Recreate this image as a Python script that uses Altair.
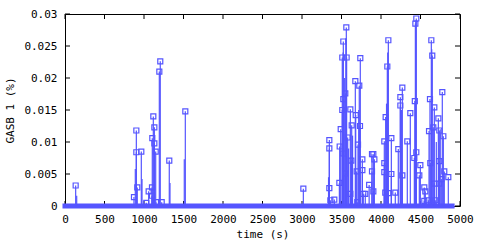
import altair as alt
import pandas as pd

# Peaks drawn as impulses topped with hollow squares
peak_t = [135, 873, 903, 903, 915, 966, 1029, 1059, 1101, 1101, 1105, 1118, 1131, 1131,
          1148, 1152, 1194, 1206, 1224, 1320, 1523, 3017,
          3346, 3346, 3346, 3359, 3409, 3473, 3477, 3490, 3510, 3510, 3523, 3523, 3523,
          3548, 3548, 3561, 3565, 3578, 3612, 3612, 3625, 3629, 3675, 3680, 3692, 3700,
          3709, 3725, 3734, 3738, 3764, 3764, 3776, 3801, 3850, 3886, 3886, 3903, 3903,
          3916, 4042, 4042, 4042, 4054, 4059, 4080, 4093, 4093, 4131, 4131, 4181, 4219,
          4245, 4245, 4270, 4270, 4333, 4371, 4422, 4428, 4435, 4447, 4447, 4485, 4498,
          4548, 4548, 4561, 4599, 4608, 4620, 4624, 4637, 4649, 4662, 4675, 4675, 4687,
          4726, 4738, 4738, 4738, 4763, 4776, 4789, 4801, 4852]
peak_v = [0.0032, 0.0014, 0.0118, 0.0084, 0.0029, 0.0085, 0.0005, 0.0023, 0.0016, 0.0029,
          0.0106, 0.0140, 0.0123, 0.0098, 0.0085, 0.0006, 0.0210, 0.0226, 0.0006, 0.0071,
          0.0148, 0.0027,
          0.0103, 0.0090, 0.0028, 0.0009, 0.0010, 0.0036, 0.0093, 0.0120, 0.0232, 0.0150,
          0.0257, 0.0167, 0.0082, 0.0176, 0.0051, 0.0279, 0.0232, 0.0107, 0.0151, 0.0019,
          0.0071, 0.0126, 0.0195, 0.0142, 0.0054, 0.0006, 0.0096, 0.0188, 0.0125, 0.0231,
          0.0073, 0.0056, 0.0019, 0.0019, 0.0033, 0.0081, 0.0054, 0.0081, 0.0023, 0.0073,
          0.0101, 0.0067, 0.0053, 0.0021, 0.0139, 0.0218, 0.0259, 0.0020, 0.0106, 0.0050,
          0.0021, 0.0089, 0.0170, 0.0157, 0.0185, 0.0048, 0.0101, 0.0145, 0.0075, 0.0164,
          0.0285, 0.0293, 0.0084, 0.0048, 0.0064, 0.0029, 0.0008, 0.0023, 0.0009, 0.0117,
          0.0167, 0.0067, 0.0259, 0.0235, 0.0123, 0.0154, 0.0035, 0.0009, 0.0137, 0.0118,
          0.0070, 0.0035, 0.0042, 0.0178, 0.0109, 0.0054, 0.0045]

# Impulses whose squares are not visible
line_t = [148, 890, 975, 1329, 1510, 3336, 3520, 3540, 3555, 3590, 3640, 3718,
          4070, 4085, 4258, 4440, 4642, 4700, 4750]
line_v = [0.0016, 0.0058, 0.0042, 0.0036, 0.0073, 0.0045, 0.0240, 0.0200, 0.0262, 0.0090,
          0.0110, 0.0150, 0.0160, 0.0240, 0.0150, 0.0290, 0.0245, 0.0100, 0.0120]

# Range of the zero-valued samples forming the baseline band
zero_range = [0, 4900]

x_ticks = [0, 500, 1000, 1500, 2000, 2500, 3000, 3500, 4000, 4500, 5000]
y_ticks = [0, 0.005, 0.01, 0.015, 0.02, 0.025, 0.03]

W, H = 395, 192
BLUE = "#5555ff"
FONT = "DejaVu Sans Mono"

xs = alt.Scale(domain=[0, 5000], nice=False)
ys = alt.Scale(domain=[0, 0.03], nice=False)

peaks = pd.DataFrame({"t": peak_t, "v": peak_v})
lines = pd.DataFrame({"t": line_t, "v": line_v})
zero_df = pd.DataFrame({"t": [zero_range[0]], "t2": [zero_range[1]], "v": [0.0]})
xt = pd.DataFrame({"t": x_ticks})
yt = pd.DataFrame({"v": y_ticks})

x_axis = alt.Axis(values=x_ticks, format="d", ticks=False, domain=False, grid=False,
                  labelOverlap=False, labelFlush=False,
                  labelFont=FONT, labelFontSize=11, labelColor="black", labelPadding=7,
                  title="time (s)", titleFont=FONT, titleFontSize=11,
                  titleFontWeight="normal", titleColor="black", titlePadding=4)
y_axis = alt.Axis(values=y_ticks, format="~g", ticks=False, domain=False, grid=False,
                  labelOverlap=False, labelFlush=False,
                  labelFont=FONT, labelFontSize=11, labelColor="black", labelPadding=8,
                  title="GASB 1 (%)", titleFont=FONT, titleFontSize=11,
                  titleFontWeight="normal", titleColor="black", titleX=-55, titleY=H / 2,
                  titleAngle=270, titleAlign="center", titleBaseline="middle")


def X(f="t"):
    return alt.X(f + ":Q", scale=xs, axis=x_axis, title="time (s)")


def Y(f="v"):
    return alt.Y(f + ":Q", scale=ys, axis=y_axis, title="GASB 1 (%)")


# axes ticks (inward, mirrored)
bt = alt.Chart(xt).mark_rule(color="black", strokeWidth=1).encode(
    x=X(), y=alt.value(H), y2=alt.value(H - 5))
tt = alt.Chart(xt).mark_rule(color="black", strokeWidth=1).encode(
    x=X(), y=alt.value(0), y2=alt.value(5))
lt = alt.Chart(yt).mark_rule(color="black", strokeWidth=1).encode(
    y=Y(), x=alt.value(0), x2=alt.value(5))
rt = alt.Chart(yt).mark_rule(color="black", strokeWidth=1).encode(
    y=Y(), x=alt.value(W), x2=alt.value(W - 5))

band = alt.Chart(zero_df).mark_rule(color=BLUE, strokeWidth=5, strokeCap="square").encode(
    x=X(), x2="t2:Q", y=Y())

imp1 = alt.Chart(peaks).mark_rule(color=BLUE, strokeWidth=1.2).encode(
    x=X(), y=Y(), y2=alt.datum(0))
imp2 = alt.Chart(lines).mark_rule(color=BLUE, strokeWidth=1.2).encode(
    x=X(), y=Y(), y2=alt.datum(0))
pts = alt.Chart(peaks).mark_point(shape="square", filled=False, color=BLUE, size=25,
                                  strokeWidth=1.2, opacity=1).encode(
    x=X(), y=Y())

chart = alt.layer(bt, tt, lt, rt, band, imp1, imp2, pts).properties(
    width=W, height=H,
    autosize=alt.AutoSizeParams(type="none"),
    padding={"left": 65, "top": 14, "right": 20, "bottom": 34},
    background="white",
).configure_view(stroke="black", strokeWidth=1)

chart.save("out.html", embed_options={"renderer": "svg", "actions": False})
